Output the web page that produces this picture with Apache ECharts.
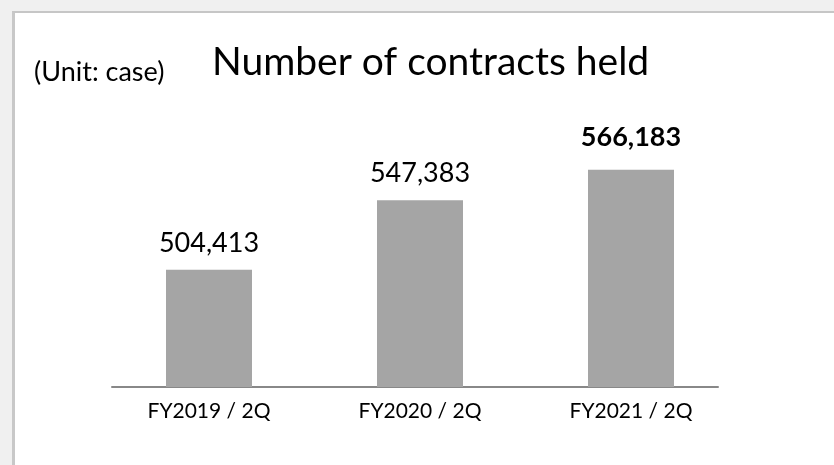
<!DOCTYPE html>
<html>
<head>
<meta charset="utf-8">
<script src="https://cdn.jsdelivr.net/npm/echarts@6/dist/echarts.min.js"></script>
<style>
  html, body { margin: 0; padding: 0; background: #f0f0f0; }
  .panel {
    position: absolute; left: 12px; top: 11px; right: 0; bottom: 0;
    background: #fff;
    border-left: 3px solid #c8c8c8;
    border-top: 2px solid #c6c6c6;
  }
  #chart { position: absolute; left: 0; top: 0; width: 834px; height: 465px; }
</style>
</head>
<body>
<div class="panel"></div>
<div id="chart"></div>
<script>
// data
var categories = ['FY2019 / 2Q', 'FY2020 / 2Q', 'FY2021 / 2Q'];
var contracts = [504413, 547383, 566183];
var boldIndex = 2;   // latest period label is bold

var fontFamily = 'Lato, "Open Sans", sans-serif';

var seriesData = contracts.map(function (v, i) {
    var item = { value: v };
    if (i === boldIndex) {
        item.label = { fontWeight: 'bold', distance: 19 };
    }
    return item;
});

var option = {
    animation: false,
    backgroundColor: 'transparent',
    title: [
        {
            text: 'Number of contracts held',
            left: 207, top: 38,
            textStyle: { fontFamily: fontFamily, fontSize: 39, fontWeight: 'normal', color: '#000' }
        },
        {
            text: '(Unit: case)',
            left: 29, top: 54,
            textStyle: { fontFamily: fontFamily, fontSize: 27, fontWeight: 'normal', color: '#000' }
        }
    ],
    grid: [
        { left: 103.5, right: 97.5, top: 115, bottom: 78 },
        // only for the base line, which is shorter than the category bands
        { left: 112, right: 116, top: 115, bottom: 78 }
    ],
    xAxis: [
        {
            type: 'category',
            gridIndex: 0,
            data: categories,
            axisLine: { show: false },
            axisTick: { show: false },
            axisLabel: {
                margin: 14,
                fontFamily: fontFamily,
                fontSize: 21,
                color: '#000'
            }
        },
        {
            type: 'category',
            gridIndex: 1,
            data: categories,
            axisLine: { show: true, lineStyle: { color: '#888888', width: 2 } },
            axisTick: { show: false },
            axisLabel: { show: false }
        }
    ],
    yAxis: [
        { type: 'value', gridIndex: 0, min: 432000, max: 600000, show: false },
        { type: 'value', gridIndex: 1, min: 432000, max: 600000, show: false }
    ],
    series: [
        {
            type: 'bar',
            xAxisIndex: 0,
            yAxisIndex: 0,
            barWidth: 86,
            data: seriesData,
            itemStyle: { color: '#a5a5a5' },
            label: {
                show: true,
                position: 'top',
                distance: 13,
                fontFamily: fontFamily,
                fontSize: 27,
                color: '#000',
                formatter: function (p) {
                    return p.value.toLocaleString('en-US');
                }
            }
        }
    ]
};

var myChart = echarts.init(document.getElementById('chart'));
myChart.setOption(option);
</script>
</body>
</html>
